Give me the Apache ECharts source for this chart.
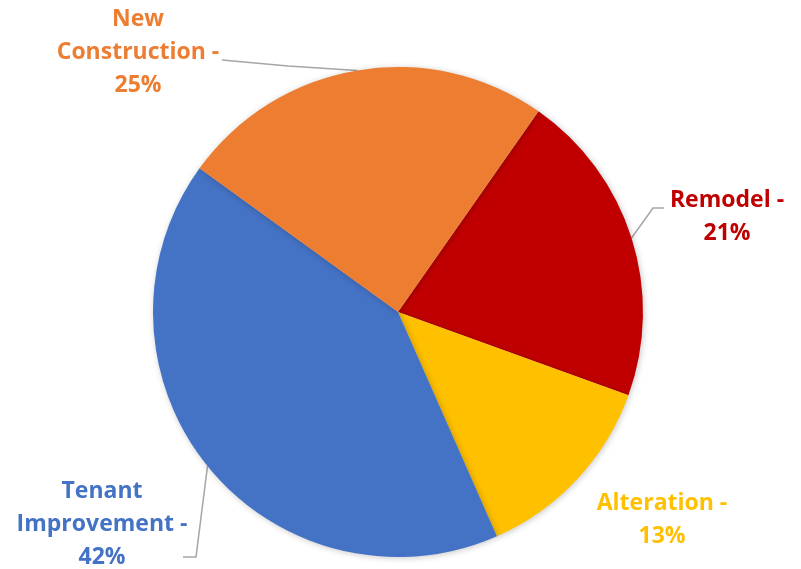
<!DOCTYPE html>
<html>
<head>
<meta charset="utf-8">
<script src="https://cdn.jsdelivr.net/npm/echarts@6/dist/echarts.min.js"></script>
<style>
  html, body { margin: 0; padding: 0; background: #ffffff; }
  #chart { width: 801px; height: 569px; }
</style>
</head>
<body>
<div id="chart"></div>
<script>
// Permit share by work type (percent)
const categories = ['Remodel', 'Alteration', 'Tenant Improvement', 'New Construction'];
const shares = [21, 13, 42, 25];
const sliceColors = ['#C00000', '#FFC000', '#4472C4', '#ED7D31'];

// Label placement (centre of each label block) and leader-line bends
const labelSpots = [
  { x: 727, y: 217, line: [[653, 208], [664, 208]] },
  { x: 662, y: 520, line: null },
  { x: 102, y: 524, line: [[196, 557], [183, 557]] },
  { x: 138, y: 52,  line: [[288, 66], [222, 60]] }
];

const chart = echarts.init(document.getElementById('chart'), null, { renderer: 'canvas' });

chart.setOption({
  animation: false,
  backgroundColor: '#ffffff',
  series: [{
    type: 'pie',
    center: [398, 312],
    radius: 245,
    startAngle: 55,
    clockwise: true,
    avoidLabelOverlap: false,
    data: categories.map((name, i) => ({
      name: name,
      value: shares[i],
      itemStyle: { color: sliceColors[i] },
      label: { color: sliceColors[i] },
      labelLine: { show: labelSpots[i].line !== null }
    })),
    itemStyle: {
      borderWidth: 0,
      shadowBlur: 6,
      shadowColor: 'rgba(0,0,0,0.22)',
      shadowOffsetX: 1,
      shadowOffsetY: 1
    },
    label: {
      show: true,
      position: 'outside',
      fontFamily: '"Open Sans", sans-serif',
      fontWeight: 'bold',
      fontSize: 23,
      lineHeight: 33,
      align: 'center',
      formatter: p => p.name.replace(' ', '\n') + ' -\n' + p.value + '%'
    },
    labelLine: {
      show: true,
      lineStyle: { color: '#A6A6A6', width: 1.5 }
    },
    labelLayout: function (params) {
      const spot = labelSpots[params.dataIndex];
      const out = { x: spot.x, y: spot.y, align: 'center', verticalAlign: 'middle' };
      if (spot.line && params.labelLinePoints) {
        out.labelLinePoints = [params.labelLinePoints[0], spot.line[0], spot.line[1]];
      }
      return out;
    }
  }]
});
</script>
</body>
</html>
